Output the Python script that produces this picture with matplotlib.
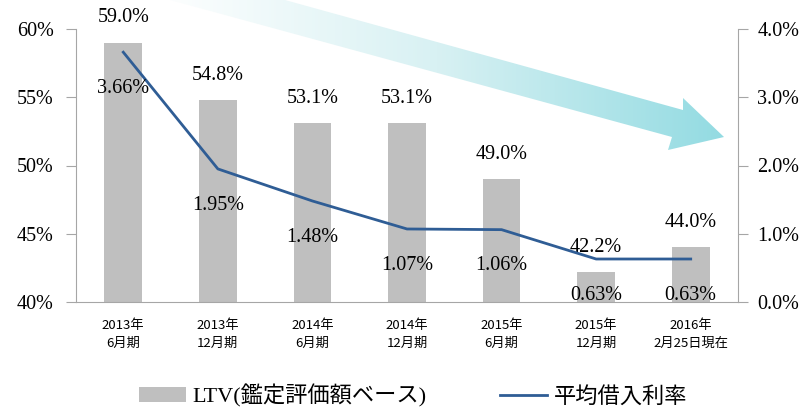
import matplotlib.pyplot as plt
import numpy as np
from matplotlib.patches import Polygon, Patch
from matplotlib.lines import Line2D
from matplotlib.colors import LinearSegmentedColormap

# data
periods = ["2013年\n6月期", "2013年\n12月期", "2014年\n6月期", "2014年\n12月期",
           "2015年\n6月期", "2015年\n12月期", "2016年\n2月25日現在"]
ltv = [59.0, 54.8, 53.1, 53.1, 49.0, 42.2, 44.0]
rate = [3.66, 1.95, 1.48, 1.07, 1.06, 0.63, 0.63]

SERIF = ["Liberation Serif", "Noto Sans CJK JP"]
CJK = ["Noto Sans CJK JP", "DejaVu Sans"]
BAR_COLOR = "#bfbfbf"
LINE_COLOR = "#2f5d95"
AXIS_COLOR = "#a6a6a6"

W, H = 807, 409
fig = plt.figure(figsize=(W / 100, H / 100), dpi=100)

# background arrow, drawn in pixel coords over the whole figure
bg = fig.add_axes([0, 0, 1, 1], zorder=0)
bg.set_xlim(0, W)
bg.set_ylim(H, 0)
bg.axis("off")
arrow_pts = [(285, 0), (683, 110), (683, 98), (724, 137), (668, 150), (672, 137), (170, 0)]
arrow = Polygon(arrow_pts, closed=True, facecolor="none", edgecolor="none")
bg.add_patch(arrow)
cmap = LinearSegmentedColormap.from_list("arr", ["#ffffff", "#d8f1f3", "#93dbe2"])
grad = np.linspace(0, 1, 256).reshape(1, -1)
img = bg.imshow(grad, cmap=cmap, extent=(150, 725, 160, 0), aspect="auto")
img.set_clip_path(arrow)

ax = fig.add_axes([76 / W, 1 - 302 / H, (738 - 76) / W, (302 - 29) / H], zorder=1)
ax.patch.set_alpha(0)
x = np.arange(len(periods))
ax.bar(x, ltv, width=0.4, color=BAR_COLOR, zorder=2)
ax.set_ylim(40, 60)
ax.set_xlim(-0.5, len(periods) - 0.5)
ax.set_yticks([40, 45, 50, 55, 60])
ax.set_yticklabels([f"{v}%" for v in [40, 45, 50, 55, 60]], fontfamily=SERIF, fontsize=14.5)
ax.set_xticks(x)
ax.set_xticklabels(periods, fontfamily=CJK, fontsize=9.5, linespacing=1.5)
ax.tick_params(axis="x", length=0, pad=12)
ax.tick_params(axis="y", length=7, color=AXIS_COLOR, pad=9)
for s in ["top", "right"]:
    ax.spines[s].set_visible(False)
ax.spines["left"].set_color(AXIS_COLOR)
ax.spines["bottom"].set_color(AXIS_COLOR)

for xi, v in zip(x, ltv):
    ax.annotate(f"{v:.1f}%", (xi, v), xytext=(0, 11), textcoords="offset points",
                ha="center", va="bottom", fontfamily=SERIF, fontsize=14.5, zorder=4)

ax2 = ax.twinx()
ax2.plot(x, rate, color=LINE_COLOR, linewidth=2.0, zorder=3)
ax2.set_ylim(0, 4)
ax2.set_yticks([0, 1, 2, 3, 4])
ax2.set_yticklabels([f"{v:.1f}%" for v in [0, 1, 2, 3, 4]], fontfamily=SERIF, fontsize=14.5)
ax2.tick_params(axis="y", length=7, color=AXIS_COLOR, pad=7)
for s in ["top", "left", "bottom"]:
    ax2.spines[s].set_visible(False)
ax2.spines["right"].set_color(AXIS_COLOR)

for xi, v in zip(x, rate):
    ax2.annotate(f"{v:.2f}%", (xi, v), xytext=(0, -26), textcoords="offset points",
                 ha="center", va="center", fontfamily=SERIF, fontsize=14.5, zorder=4)

handles = [Patch(facecolor=BAR_COLOR), Line2D([], [], color=LINE_COLOR, linewidth=2.0)]
labels = ["LTV(鑑定評価額ベース)", "平均借入利率"]
fig.legend(handles, labels, loc="center", bbox_to_anchor=(0.512, 1 - 396 / H), ncol=2,
           frameon=False, prop={"family": SERIF, "size": 16}, handlelength=2.1,
           handleheight=0.65, columnspacing=3.3, handletextpad=0.3)

fig.savefig("out.png", dpi=100)
